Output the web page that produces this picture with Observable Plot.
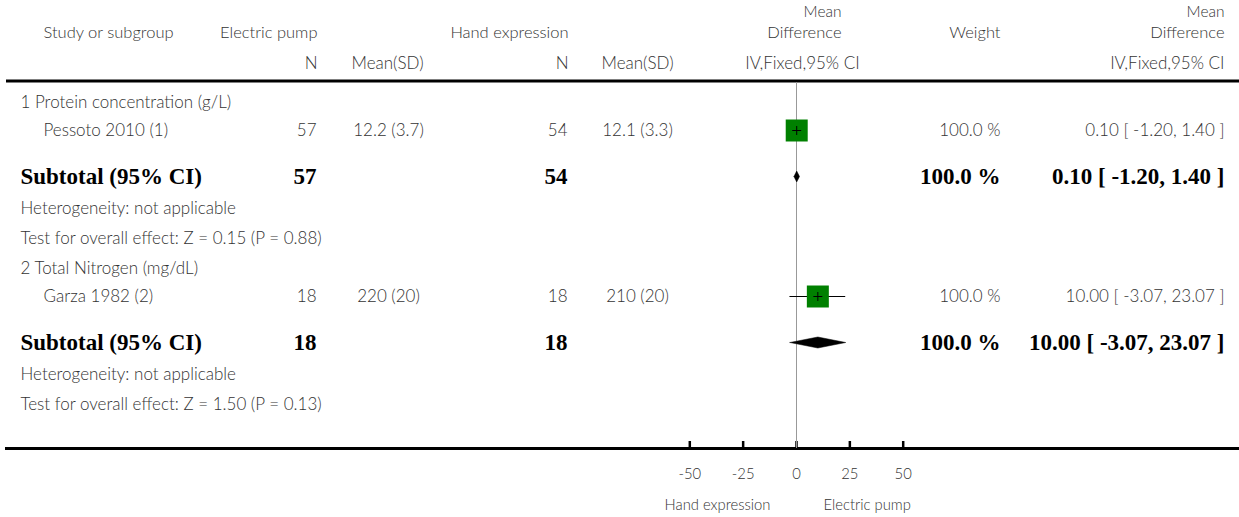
<!DOCTYPE html>
<html>
<head>
<meta charset="utf-8">
<script src="https://cdn.jsdelivr.net/npm/d3@7"></script>
<script src="https://cdn.jsdelivr.net/npm/@observablehq/plot@0.6"></script>
<style>
  html, body { margin: 0; padding: 0; background: #fff; }
  #chart svg { display: block; }
</style>
</head>
<body>
<div id="chart"></div>
<script>
// ---------------- data ----------------
const groupLabels = ["1 Protein concentration (g/L)", "2 Total Nitrogen (mg/dL)"];
const studyNames = ["Pessoto 2010 (1)", "Garza 1982 (2)"];
const pumpN = [57, 18];
const pumpMeanSD = ["12.2 (3.7)", "220 (20)"];
const handN = [54, 18];
const handMeanSD = ["12.1 (3.3)", "210 (20)"];
const meanDiff = [0.10, 10.00];
const ciLow = [-1.20, -3.07];
const ciHigh = [1.40, 23.07];
const weights = [100.0, 100.0];
const subtotalPumpN = [57, 18];
const subtotalHandN = [54, 18];
const subtotalMD = [0.10, 10.00];
const subtotalLow = [-1.20, -3.07];
const subtotalHigh = [1.40, 23.07];
const subtotalWeight = [100.0, 100.0];
const heterogeneity = ["Heterogeneity: not applicable", "Heterogeneity: not applicable"];
const overallEffect = ["Test for overall effect: Z = 0.15 (P = 0.88)", "Test for overall effect: Z = 1.50 (P = 0.13)"];
const axisTicks = [-50, -25, 0, 25, 50];
const favourLabels = ["Hand expression", "Electric pump"];
const headerTop = ["Study or subgroup", "Electric pump", "Hand expression", "Difference", "Weight", "Difference"];
const headerAbove = ["Mean", "Mean"];
const headerSub = ["N", "Mean(SD)", "N", "Mean(SD)", "IV,Fixed,95% CI", "IV,Fixed,95% CI"];

// ---------------- layout (pixels) ----------------
const W = 1239, H = 517;
const frameLeft = 6;
const axisY = 448;          // frame bottom
const headerLineY = 80.5;
const firstRowY = 102;
const gapBefore = {group: 30, study: 28, subtotal: 46, het: 32, test: 30};
const regular = 17, boldSize = 23, axisFont = 14.8;
const textWeight = 300;
const col = {
  groupLeft: 20, studyLeft: 43, pumpN: 316, pumpSD: 388, handN: 567, handSD: 637,
  weight: 1000, effect: 1224
};
const dxOf = p => p - frameLeft;

// build rows
const rows = [];
let yCur = firstRowY - gapBefore.group;
function addRow(kind, obj) { yCur += gapBefore[kind]; rows.push({kind, y: yCur, ...obj}); }
const fmtCI = (m, l, h) => `${m.toFixed(2)} [ ${l.toFixed(2)}, ${h.toFixed(2)} ]`;
groupLabels.forEach((g, i) => {
  addRow("group", {label: g});
  addRow("study", {label: studyNames[i], pN: pumpN[i], pSD: pumpMeanSD[i], hN: handN[i], hSD: handMeanSD[i],
    md: meanDiff[i], lo: ciLow[i], hi: ciHigh[i], w: `${weights[i].toFixed(1)} %`, ci: fmtCI(meanDiff[i], ciLow[i], ciHigh[i])});
  addRow("subtotal", {label: "Subtotal (95% CI)", pN: subtotalPumpN[i], hN: subtotalHandN[i],
    md: subtotalMD[i], lo: subtotalLow[i], hi: subtotalHigh[i], w: `${subtotalWeight[i].toFixed(1)} %`,
    ci: fmtCI(subtotalMD[i], subtotalLow[i], subtotalHigh[i]), g: i});
  addRow("het", {label: heterogeneity[i]});
  addRow("test", {label: overallEffect[i]});
});
const of = k => rows.filter(r => r.kind === k);
const studies = of("study"), subtotals = of("subtotal");
const plain = rows.filter(r => r.kind === "het" || r.kind === "test" || r.kind === "group");

// diamonds
const dh = 5.5;
const diamonds = subtotals.flatMap(r => [
  {g: r.g, x: r.lo, y: r.y}, {g: r.g, x: r.md, y: r.y - dh},
  {g: r.g, x: r.hi, y: r.y}, {g: r.g, x: r.md, y: r.y + dh}, {g: r.g, x: r.lo, y: r.y}
]);

// header layout
const headerTopY = 32.5, headerAboveY = 12, headerSubY = 63;
const headerTopLayout = [
  {p: 43, a: "start"}, {p: 317, a: "end"}, {p: 568, a: "end"},
  {p: 841, a: "end"}, {p: 1000, a: "end"}, {p: 1224, a: "end"}
];
const headerAboveLayout = [{p: 841, a: "end"}, {p: 1224, a: "end"}];
const headerSubLayout = [
  {p: 317, a: "end"}, {p: 387, a: "middle"}, {p: 568, a: "end"}, {p: 637, a: "middle"},
  {p: 802, a: "middle"}, {p: 1224, a: "end"}
];
const textColor = "#333";
const base = {fontSize: regular, fontWeight: textWeight, fill: textColor};

const textMarks = [];
const addHeader = (labels, layout, y, size) => labels.forEach((t, i) => {
  const L = layout[i];
  textMarks.push(Plot.text([t], {frameAnchor: "left", y: () => y, text: d => d, textAnchor: L.a,
    dx: dxOf(L.p), ...base, fontSize: size}));
});
addHeader(headerAbove, headerAboveLayout, headerAboveY, 15.5);
addHeader(headerTop, headerTopLayout, headerTopY, 16.5);
addHeader(headerSub, headerSubLayout, headerSubY, regular);

const chart = Plot.plot({
  width: W, height: H,
  marginTop: 0, marginLeft: frameLeft, marginRight: 0, marginBottom: H - axisY,
  x: {domain: [-50, 50], range: [689.3, 902.7], axis: null},
  y: {domain: [0, axisY], range: [0, axisY], axis: null},
  style: {fontFamily: "Lato, 'Open Sans', sans-serif", background: "#fff", color: textColor},
  marks: [
    // lines
    Plot.ruleY([headerLineY], {stroke: "#000", strokeWidth: 3}),
    Plot.frame({anchor: "bottom", stroke: "#000", strokeWidth: 3}),
    Plot.ruleX(axisTicks, {x: d => d, y1: axisY - 7, y2: axisY, stroke: "#000", strokeWidth: 2.5}),
    Plot.ruleX([0], {y1: headerLineY + 1.5, y2: axisY, stroke: "#999", strokeWidth: 1}),
    // studies
    Plot.ruleY(studies, {x1: "lo", x2: "hi", y: "y", stroke: "#000", strokeWidth: 1}),
    Plot.dot(studies, {x: "md", y: "y", symbol: "square", r: 12.41, fill: "#008000", stroke: null}),
    Plot.dot(studies, {x: "md", y: "y", symbol: "plus", r: 3, stroke: "#000", strokeWidth: 1}),
    // diamonds
    Plot.line(diamonds, {x: "x", y: "y", z: "g", fill: "#000", stroke: "#000", strokeWidth: 0.5, curve: "linear"}),
    // axis labels
    Plot.text(axisTicks, {x: d => d, y: () => axisY + 26, text: d => String(d), ...base, fontSize: axisFont}),
    Plot.text([favourLabels[0]], {x: () => 0, y: () => axisY + 57, text: d => d, textAnchor: "end", dx: -26, ...base, fontSize: axisFont}),
    Plot.text([favourLabels[1]], {x: () => 0, y: () => axisY + 57, text: d => d, textAnchor: "start", dx: 27, ...base, fontSize: axisFont}),
    // header
    ...textMarks,
    // row labels
    Plot.text(plain, {frameAnchor: "left", y: "y", text: "label", textAnchor: "start", dx: dxOf(col.groupLeft), ...base}),
    Plot.text(studies, {frameAnchor: "left", y: "y", text: "label", textAnchor: "start", dx: dxOf(col.studyLeft), ...base}),
    Plot.text(studies, {frameAnchor: "left", y: "y", text: "pN", textAnchor: "end", dx: dxOf(col.pumpN), ...base}),
    Plot.text(studies, {frameAnchor: "left", y: "y", text: "pSD", textAnchor: "middle", dx: dxOf(col.pumpSD), ...base}),
    Plot.text(studies, {frameAnchor: "left", y: "y", text: "hN", textAnchor: "end", dx: dxOf(col.handN), ...base}),
    Plot.text(studies, {frameAnchor: "left", y: "y", text: "hSD", textAnchor: "middle", dx: dxOf(col.handSD), ...base}),
    Plot.text(studies, {frameAnchor: "left", y: "y", text: "w", textAnchor: "end", dx: dxOf(col.weight), ...base}),
    Plot.text(studies, {frameAnchor: "left", y: "y", text: "ci", textAnchor: "end", dx: dxOf(col.effect), ...base}),
    // subtotals (bold serif)
    ...[["label", col.groupLeft, "start"], ["pN", col.pumpN, "end"], ["hN", col.handN, "end"], ["w", col.weight, "end"], ["ci", col.effect, "end"]]
      .map(([k, p, a]) => Plot.text(subtotals, {frameAnchor: "left", y: "y", text: k, textAnchor: a, dx: dxOf(p),
        fontSize: boldSize, fontWeight: "bold", fontFamily: "'Liberation Serif', 'Times New Roman', serif", fill: "#000"}))
  ]
});
document.getElementById("chart").appendChild(chart);
</script>
</body>
</html>
